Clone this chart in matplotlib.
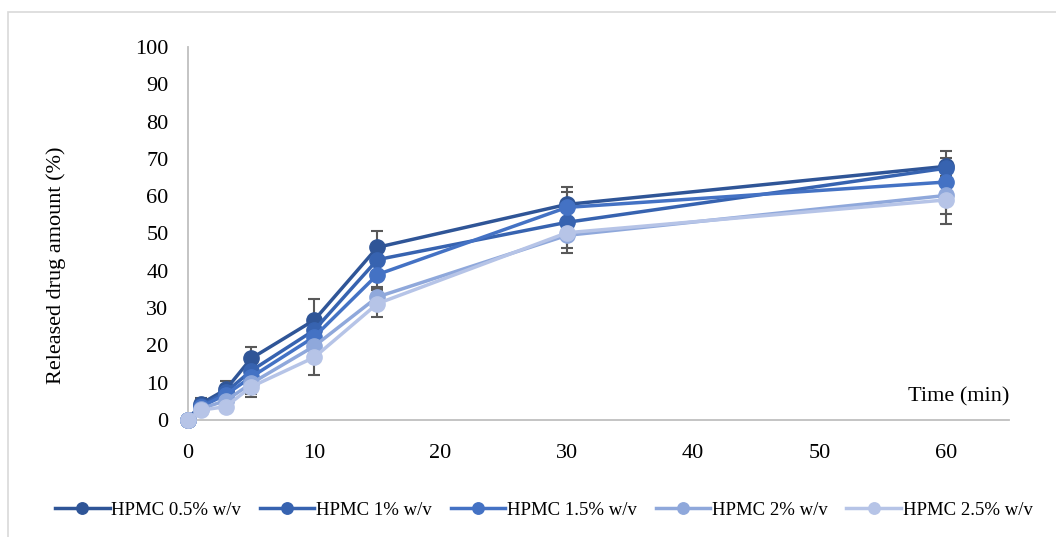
import matplotlib
matplotlib.use('Agg')
import matplotlib.pyplot as plt
from matplotlib.patches import Rectangle

# sampling times (min)
time_min = [0, 1, 3, 5, 10, 15, 30, 60]

series_names = ['HPMC 0.5% w/v', 'HPMC 1% w/v', 'HPMC 1.5% w/v', 'HPMC 2% w/v', 'HPMC 2.5% w/v']

rel_05 = [0, 4.3, 8.2, 16.5, 26.8, 46.3, 57.8, 68.0]
rel_10 = [0, 3.8, 7.5, 13.2, 24.1, 43.0, 53.0, 67.5]
rel_15 = [0, 3.5, 6.8, 11.5, 22.3, 39.0, 57.0, 63.8]
rel_20 = [0, 3.0, 5.2, 9.8, 19.8, 33.0, 49.5, 60.2]
rel_25 = [0, 2.6, 3.6, 8.9, 16.8, 31.2, 50.2, 59.0]

err_05 = [0, 1.5, 2.3, 3.0, 5.6, 4.5, 4.7, 4.0]
err_10 = [0, 1.2, 2.0, 2.5, 3.5, 4.0, 3.0, 2.7]
err_15 = [0, 1.0, 1.5, 2.0, 3.0, 3.3, 4.0, 3.0]
err_20 = [0, 1.0, 1.5, 3.6, 3.0, 2.5, 3.5, 5.0]
err_25 = [0, 1.0, 1.2, 2.0, 4.8, 3.6, 5.5, 6.5]

releases = [rel_05, rel_10, rel_15, rel_20, rel_25]
errors = [err_05, err_10, err_15, err_20, err_25]
colors = ['#2F5597', '#3763B0', '#4472C4', '#8FA8DB', '#B6C4E7']

plt.rcParams['font.family'] = ['Liberation Serif', 'DejaVu Serif']

fig = plt.figure(figsize=(10.56, 5.37), dpi=100)
ax = fig.add_axes([188 / 1056, 1 - 420 / 537, (1009 - 188) / 1056, (420 - 47) / 537])

# chart frame (only left and top edges are visible in the crop)
fig.patches.append(Rectangle((8 / 1056, -0.1), 1.2, 1 - 12 / 537 + 0.1, transform=fig.transFigure,
                             fill=False, edgecolor='#D9D9D9', linewidth=1.2))

for ys, es in zip(releases, errors):
    ax.errorbar(time_min, ys, yerr=es, fmt='none', ecolor='#595959', elinewidth=1.5,
                capsize=4.6, capthick=1.5, zorder=2, clip_on=False)

for ys, col, name in zip(releases, colors, series_names):
    ax.plot(time_min, ys, color=col, linewidth=2.5, marker='o', markersize=11,
            label=name, zorder=3, clip_on=False)

ax.set_xlim(0, 65)
ax.set_ylim(0, 100)
ax.set_xticks([0, 10, 20, 30, 40, 50, 60])
ax.set_yticks(range(0, 101, 10))
ax.tick_params(axis='both', length=0, labelsize=16)
ax.tick_params(axis='y', pad=14)
ax.tick_params(axis='x', pad=17)

for side in ['top', 'right']:
    ax.spines[side].set_visible(False)
for side in ['left', 'bottom']:
    ax.spines[side].set_color('#BFBFBF')
    ax.spines[side].set_linewidth(1.3)

ax.text(65, 6.2, 'Time (min)', ha='right', va='center', fontsize=16)
fig.text(56 / 1056, 1 - 265 / 537, 'Released drug amount (%)', rotation=90,
         ha='center', va='center', fontsize=16)

leg = fig.legend(loc='center', bbox_to_anchor=(0.515, 0.05), ncol=5, frameon=False,
                 fontsize=13.5, handlelength=2.9, columnspacing=1.0, handletextpad=0.1,
                 markerscale=0.75)

fig.savefig('out.png', dpi=100)
